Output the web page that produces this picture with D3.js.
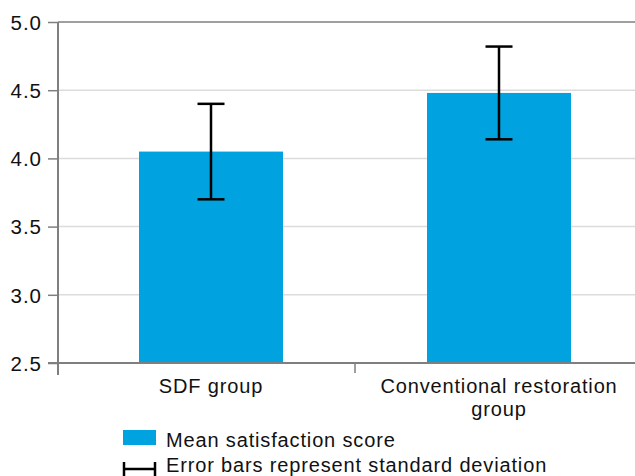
<!DOCTYPE html>
<html>
<head>
<meta charset="utf-8">
<script src="https://cdn.jsdelivr.net/npm/d3@7"></script>
<style>
  body { margin: 0; background: #fff; }
  svg { font-family: "Liberation Sans", Arial, sans-serif; }
</style>
</head>
<body>
<div id="container"></div>
<script>
const width = 635, height = 476;

// data
const groups = ["SDF group", "Conventional restoration group"];
const groupLines = [["SDF group"], ["Conventional restoration", "group"]];
const means = [4.05, 4.48];
const sds = [0.35, 0.34];
const yTicks = [2.5, 3.0, 3.5, 4.0, 4.5, 5.0];

const axisX = 58, plotTop = 22, plotBottom = 363;

const x = d3.scaleBand()
    .domain(groups)
    .range([67, 643])
    .paddingInner(0.5)
    .paddingOuter(0.25);

const y = d3.scaleLinear()
    .domain([2.5, 5.0])
    .range([plotBottom, plotTop]);

const svg = d3.select("#container").append("svg")
    .attr("width", width)
    .attr("height", height);

// gridlines
svg.append("g")
    .selectAll("line")
    .data(yTicks.filter(d => d > 2.5 && d < 5.0))
    .join("line")
    .attr("x1", axisX).attr("x2", width)
    .attr("y1", d => y(d)).attr("y2", d => y(d))
    .attr("stroke", "#dcdcdc")
    .attr("stroke-width", 1.5);

// top line at 5.0
svg.append("line")
    .attr("x1", axisX).attr("x2", width)
    .attr("y1", y(5)).attr("y2", y(5))
    .attr("stroke", "#7f7f7f").attr("stroke-width", 1.5);

// bars
svg.append("g")
    .selectAll("rect")
    .data(groups)
    .join("rect")
    .attr("x", d => x(d))
    .attr("width", x.bandwidth())
    .attr("y", (d, i) => y(means[i]))
    .attr("height", (d, i) => y(2.5) - y(means[i]))
    .attr("fill", "#00a3e0");

// y axis
const yAxis = svg.append("g")
    .attr("transform", `translate(${axisX},0)`)
    .call(d3.axisLeft(y).tickValues(yTicks).tickFormat(d3.format(".1f")).tickSize(10).tickSizeOuter(0));
yAxis.select(".domain").attr("stroke", "#7f7f7f").attr("stroke-width", 2)
    .attr("d", `M0,${plotTop}V${plotBottom + 12}`);
yAxis.selectAll(".tick line").attr("stroke", "#7f7f7f").attr("stroke-width", 1.5);
yAxis.selectAll(".tick text")
    .attr("x", -16)
    .attr("dy", "0.36em")
    .attr("fill", "#111")
    .style("font-size", "20.5px")
    .style("letter-spacing", "1px")
    .style("font-family", "Liberation Sans, Arial, sans-serif");

// x axis
svg.append("line")
    .attr("x1", axisX - 10).attr("x2", width)
    .attr("y1", plotBottom).attr("y2", plotBottom)
    .attr("stroke", "#7f7f7f").attr("stroke-width", 2);
const step = x.step();
const boundaries = [x(groups[1]) - (step - x.bandwidth()) / 2];
svg.append("g")
    .selectAll("line")
    .data(boundaries)
    .join("line")
    .attr("x1", d => d).attr("x2", d => d)
    .attr("y1", plotBottom).attr("y2", plotBottom + 10)
    .attr("stroke", "#7f7f7f").attr("stroke-width", 1.5);

// category labels
svg.append("g")
    .selectAll("text")
    .data(groups)
    .join("text")
    .attr("x", d => x(d) + x.bandwidth() / 2)
    .attr("y", 393)
    .attr("text-anchor", "middle")
    .attr("fill", "#111")
    .style("font-size", "20px")
    .style("letter-spacing", "0.85px")
    .selectAll("tspan")
    .data((d, i) => groupLines[i])
    .join("tspan")
    .attr("x", function () { return d3.select(this.parentNode).attr("x"); })
    .attr("dy", (d, i) => i === 0 ? 0 : 23)
    .text(d => d);

// error bars
const err = svg.append("g").attr("stroke", "#000").attr("stroke-width", 2.5);
groups.forEach((g, i) => {
    const cx = x(g) + x.bandwidth() / 2;
    const hi = y(means[i] + sds[i]), lo = y(means[i] - sds[i]);
    err.append("line").attr("x1", cx).attr("x2", cx).attr("y1", hi).attr("y2", lo);
    err.append("line").attr("x1", cx - 13.5).attr("x2", cx + 13.5).attr("y1", hi).attr("y2", hi);
    err.append("line").attr("x1", cx - 13.5).attr("x2", cx + 13.5).attr("y1", lo).attr("y2", lo);
});

// legend
const legend = svg.append("g").style("font-size", "20px").style("letter-spacing", "0.85px").attr("fill", "#111");
legend.append("rect")
    .attr("x", 123).attr("y", 430).attr("width", 33).attr("height", 15)
    .attr("fill", "#00a3e0");
legend.append("text").attr("x", 166).attr("y", 447).text("Mean satisfaction score");
legend.append("line").attr("x1", 123).attr("x2", 156).attr("y1", 469).attr("y2", 469)
    .attr("stroke", "#000").attr("stroke-width", 2.5);
legend.append("line").attr("x1", 124).attr("x2", 124).attr("y1", 462).attr("y2", 476)
    .attr("stroke", "#000").attr("stroke-width", 2.5);
legend.append("line").attr("x1", 155).attr("x2", 155).attr("y1", 462).attr("y2", 476)
    .attr("stroke", "#000").attr("stroke-width", 2.5);
legend.append("text").attr("x", 166).attr("y", 472).text("Error bars represent standard deviation");
</script>
</body>
</html>
